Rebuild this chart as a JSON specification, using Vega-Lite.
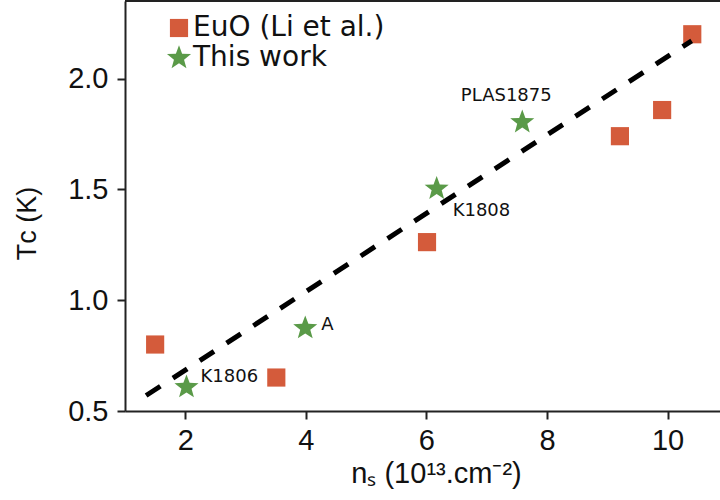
{
  "$schema": "https://vega.github.io/schema/vega-lite/v6.json",
  "autosize": "none",
  "width": 595,
  "height": 410,
  "padding": {"left": 125, "top": 1, "right": 0, "bottom": 89},
  "background": "white",
  "config": {
    "view": {"stroke": null},
    "axis": {
      "domainColor": "#222222",
      "domainWidth": 2,
      "tickColor": "#222222",
      "tickWidth": 2,
      "tickSize": 8,
      "grid": false,
      "labelFont": "Liberation Sans",
      "labelFontSize": 29,
      "labelColor": "#111111",
      "titleFont": "Liberation Sans",
      "titleFontSize": 29,
      "titleFontWeight": "normal",
      "titleColor": "#111111"
    },
    "legend": {
      "labelFont": "DejaVu Sans",
      "labelFontSize": 28,
      "labelColor": "#111111",
      "labelLimit": 400
    }
  },
  "datasets": {
    "points": [
      {"n": 1.50, "tc": 0.80, "series": "EuO (Li et al.)", "label": ""},
      {"n": 3.51, "tc": 0.651, "series": "EuO (Li et al.)", "label": ""},
      {"n": 6.01, "tc": 1.262, "series": "EuO (Li et al.)", "label": ""},
      {"n": 9.21, "tc": 1.74, "series": "EuO (Li et al.)", "label": ""},
      {"n": 9.91, "tc": 1.858, "series": "EuO (Li et al.)", "label": ""},
      {"n": 10.41, "tc": 2.20, "series": "EuO (Li et al.)", "label": ""},
      {"n": 2.02, "tc": 0.608, "series": "This work", "label": "K1806"},
      {"n": 3.99, "tc": 0.874, "series": "This work", "label": "A"},
      {"n": 6.17, "tc": 1.503, "series": "This work", "label": "K1808"},
      {"n": 7.59, "tc": 1.803, "series": "This work", "label": "PLAS1875"}
    ],
    "fit": [
      {"n": 1.35, "tc": 0.57},
      {"n": 10.4, "tc": 2.17}
    ]
  },
  "layer": [
    {
      "data": {"name": "points"},
      "mark": {"type": "point", "filled": true, "opacity": 1},
      "encoding": {
        "x": {"field": "n", "type": "quantitative", "scale": {"domain": [1, 10.87], "nice": false, "zero": false},
          "axis": {"values": [2, 4, 6, 8, 10], "format": "d", "title": "nₛ (10¹³.cm⁻²)", "labelPadding": 7, "titlePadding": 4, "titleX": 311}},
        "y": {"field": "tc", "type": "quantitative", "scale": {"domain": [0.5, 2.35], "nice": false, "zero": false},
          "axis": {"values": [0.5, 1.0, 1.5, 2.0], "format": ".1f", "title": "Tᴄ (K)", "labelPadding": 9, "titlePadding": 26, "titleY": 222, "titleFontSize": 27}},
        "color": {"field": "series", "type": "nominal",
          "scale": {"domain": ["EuO (Li et al.)", "This work"], "range": ["#D45B3B", "#5A9A48"]},
          "legend": {"title": null, "orient": "none", "legendX": 40, "legendY": 13, "padding": 0, "labelOffset": 0, "rowPadding": 2}},
        "shape": {"field": "series", "type": "nominal",
          "scale": {"domain": ["EuO (Li et al.)", "This work"], "range": ["square", "M0,-1L0.247,-0.34L0.951,-0.309L0.399,0.13L0.588,0.809L0,0.42L-0.588,0.809L-0.399,0.13L-0.951,-0.309L-0.247,-0.34Z"]},
          "legend": {"title": null, "orient": "none", "legendX": 40, "legendY": 13, "padding": 0, "labelOffset": 0, "rowPadding": 2}},
        "size": {"field": "series", "type": "nominal",
          "scale": {"domain": ["EuO (Li et al.)", "This work"], "range": [330, 640]},
          "legend": {"title": null, "orient": "none", "legendX": 40, "legendY": 13, "padding": 0, "labelOffset": 0, "rowPadding": 2}}
      }
    },
    {
      "data": {"name": "fit"},
      "mark": {"type": "line", "color": "black", "strokeWidth": 5, "strokeDash": [17, 15]},
      "encoding": {
        "x": {"field": "n", "type": "quantitative"},
        "y": {"field": "tc", "type": "quantitative"}
      }
    },
    {
      "data": {"name": "points"},
      "transform": [{"filter": "datum.label === 'K1806'"}],
      "mark": {"type": "text", "align": "left", "baseline": "middle", "dx": 14, "dy": -10, "font": "DejaVu Sans", "fontSize": 18, "color": "#111111"},
      "encoding": {"x": {"field": "n", "type": "quantitative"}, "y": {"field": "tc", "type": "quantitative"}, "text": {"field": "label"}}
    },
    {
      "data": {"name": "points"},
      "transform": [{"filter": "datum.label === 'A'"}],
      "mark": {"type": "text", "align": "left", "baseline": "middle", "dx": 16, "dy": -3, "font": "DejaVu Sans", "fontSize": 18, "color": "#111111"},
      "encoding": {"x": {"field": "n", "type": "quantitative"}, "y": {"field": "tc", "type": "quantitative"}, "text": {"field": "label"}}
    },
    {
      "data": {"name": "points"},
      "transform": [{"filter": "datum.label === 'K1808'"}],
      "mark": {"type": "text", "align": "left", "baseline": "middle", "dx": 16, "dy": 22, "font": "DejaVu Sans", "fontSize": 18, "color": "#111111"},
      "encoding": {"x": {"field": "n", "type": "quantitative"}, "y": {"field": "tc", "type": "quantitative"}, "text": {"field": "label"}}
    },
    {
      "data": {"name": "points"},
      "transform": [{"filter": "datum.label === 'PLAS1875'"}],
      "mark": {"type": "text", "align": "center", "baseline": "middle", "dx": -16, "dy": -26, "font": "DejaVu Sans", "fontSize": 18, "color": "#111111"},
      "encoding": {"x": {"field": "n", "type": "quantitative"}, "y": {"field": "tc", "type": "quantitative"}, "text": {"field": "label"}}
    },
    {
      "data": {"values": [{"top": 2.35}]},
      "mark": {"type": "rule", "color": "#222222", "strokeWidth": 2},
      "encoding": {"y": {"field": "top", "type": "quantitative"}}
    }
  ]
}
